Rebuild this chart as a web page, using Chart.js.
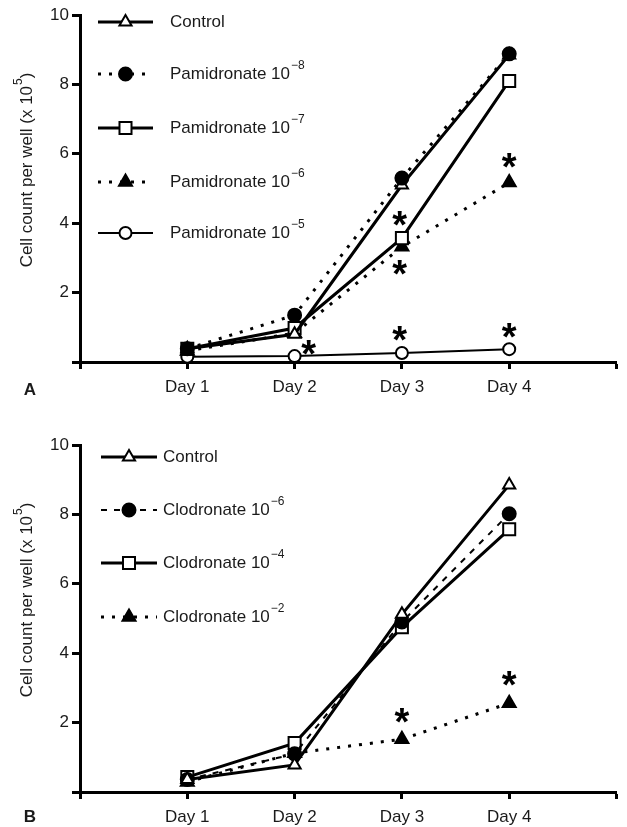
<!DOCTYPE html>
<html lang="en">
<head>
  <meta charset="UTF-8">
  <title>Cell count per well - Pamidronate / Clodronate</title>
  <script src="https://cdn.jsdelivr.net/npm/chart.js"></script>
  <style>
    html, body { margin: 0; padding: 0; background: #fff; }
    #wrap { position: relative; width: 627px; height: 827px; }
    canvas { position: absolute; left: 0; }
    #chartA { top: 0; }
    #chartB { top: 410px; }
  </style>
</head>
<body>
  <div id="wrap">
    <canvas id="chartA" width="627" height="410"></canvas>
    <canvas id="chartB" width="627" height="417"></canvas>
  </div>

  <script>
    // x positions and labels
    const days = [1, 2, 3, 4];
    const dayLabels = ['Day 1', 'Day 2', 'Day 3', 'Day 4'];

    // Panel A values (x 10^5 cells)
    const controlA = [0.38, 0.80, 5.10, 8.85];
    const pam8 = [0.38, 1.35, 5.30, 8.88];
    const pam7 = [0.38, 0.98, 3.57, 8.10];
    const pam6 = [0.32, 0.83, 3.32, 5.17];
    const pam5 = [0.15, 0.17, 0.26, 0.37];

    // Panel B values
    const controlB = [0.36, 0.78, 5.12, 8.85];
    const clod6 = [0.36, 1.10, 4.90, 8.02];
    const clod4 = [0.43, 1.41, 4.75, 7.57];
    const clod2 = [0.29, 1.12, 1.52, 2.56];

    // significance asterisks
    const starsAx = [2.13, 2.98, 2.98, 2.98, 4.0, 4.0];
    const starsAy = [0.43, 4.14, 2.73, 0.83, 5.81, 0.92];
    const starsBx = [3.0, 4.0];
    const starsBy = [2.20, 3.28];

    const FONT = '"Liberation Sans", Arial, Helvetica, sans-serif';
    const INK = '#1a1a1a';
    const TXT = 17;
    const SUP = 12;

    function toXY(vals) {
      return vals.map((v, i) => ({ x: days[i], y: v }));
    }

    // draws legend, asterisks, y title and panel letter
    const decor = {
      id: 'decor',
      afterDraw(chart, args, opts) {
        const ctx = chart.ctx;
        const xs = chart.scales.x;
        const ys = chart.scales.y;
        ctx.save();

        // asterisks
        ctx.fillStyle = '#000';
        ctx.font = 'bold 38px ' + FONT;
        ctx.textAlign = 'center';
        ctx.textBaseline = 'alphabetic';
        const m = ctx.measureText('*');
        const mid = (m.actualBoundingBoxAscent - m.actualBoundingBoxDescent) / 2;
        opts.starsX.forEach((xv, i) => {
          ctx.fillText('*', xs.getPixelForValue(xv), ys.getPixelForValue(opts.starsY[i]) + mid);
        });

        // legend
        const lg = opts.legend;
        opts.series.forEach((s, i) => {
          const y = lg.rows[i];
          ctx.save();
          ctx.strokeStyle = '#000';
          ctx.lineWidth = s.width;
          ctx.setLineDash(s.dash);
          ctx.beginPath();
          ctx.moveTo(lg.x1, y);
          ctx.lineTo(lg.x2, y);
          ctx.stroke();
          ctx.setLineDash([]);
          ctx.fillStyle = s.filled ? '#000' : '#fff';
          ctx.strokeStyle = '#000';
          ctx.lineWidth = 2;
          Chart.helpers.drawPoint(ctx, {
            pointStyle: s.style, radius: s.radius, rotation: 0, borderWidth: 2
          }, (lg.x1 + lg.x2) / 2, y);
          ctx.restore();

          ctx.fillStyle = INK;
          ctx.textAlign = 'left';
          ctx.textBaseline = 'middle';
          ctx.font = TXT + 'px ' + FONT;
          ctx.fillText(s.label, lg.tx, y);
          if (s.exp) {
            const w = ctx.measureText(s.label).width;
            ctx.font = SUP + 'px ' + FONT;
            ctx.fillText(s.exp, lg.tx + w + 1, y - 8);
          }
        });

        // y axis title with superscript
        ctx.fillStyle = INK;
        ctx.translate(opts.titleX, ys.top + 155);
        ctx.rotate(-Math.PI / 2);
        ctx.textAlign = 'left';
        ctx.textBaseline = 'middle';
        ctx.font = TXT + 'px ' + FONT;
        const t1 = 'Cell count per well (x 10';
        const t3 = ')';
        const w1 = ctx.measureText(t1).width;
        const w3 = ctx.measureText(t3).width;
        ctx.font = SUP + 'px ' + FONT;
        const w2 = ctx.measureText('5').width;
        const x0 = -(w1 + w2 + w3 + 1) / 2;
        ctx.font = TXT + 'px ' + FONT;
        ctx.fillText(t1, x0, 0);
        ctx.font = SUP + 'px ' + FONT;
        ctx.fillText('5', x0 + w1 + 1, -8);
        ctx.font = TXT + 'px ' + FONT;
        ctx.fillText(t3, x0 + w1 + w2 + 1, 0);
        ctx.restore();

        // panel letter
        ctx.save();
        ctx.fillStyle = INK;
        ctx.font = 'bold 17px ' + FONT;
        ctx.textAlign = 'center';
        ctx.textBaseline = 'middle';
        ctx.fillText(opts.letter, 30, opts.letterY);
        ctx.restore();
      }
    };

    function makePanel(id, series, cfg) {
      const datasets = series.map(s => ({
        label: s.label,
        data: toXY(s.values),
        borderColor: '#000',
        borderWidth: s.width,
        borderDash: s.dash,
        pointStyle: s.style,
        pointRadius: s.radius,
        pointHoverRadius: s.radius,
        pointBackgroundColor: s.filled ? '#000' : '#fff',
        pointBorderColor: '#000',
        pointBorderWidth: 2,
        fill: false,
        tension: 0,
        order: s.order,
        clip: 8
      }));

      new Chart(document.getElementById(id), {
        type: 'line',
        data: { datasets: datasets },
        options: {
          responsive: false,
          animation: false,
          devicePixelRatio: 1,
          layout: { padding: cfg.padding },
          plugins: {
            legend: { display: false },
            tooltip: { enabled: false },
            decor: {
              series: series,
              legend: cfg.legend,
              starsX: cfg.starsX,
              starsY: cfg.starsY,
              titleX: 27,
              letter: cfg.letter,
              letterY: cfg.letterY
            }
          },
          scales: {
            x: {
              type: 'linear',
              min: 0,
              max: 5,
              ticks: {
                stepSize: 1,
                autoSkip: false,
                maxRotation: 0,
                padding: 8,
                color: INK,
                font: { family: FONT, size: TXT },
                callback: v => {
                  const i = days.indexOf(v);
                  return i >= 0 ? dayLabels[i] : '';
                }
              },
              grid: { drawOnChartArea: false, drawTicks: true, tickLength: 7, tickWidth: 3, tickColor: '#000' },
              border: { display: true, width: 3, color: '#000' },
              afterFit: s => { s.height = cfg.xHeight; }
            },
            y: {
              min: 0,
              max: 10,
              ticks: {
                stepSize: 2,
                padding: 3,
                color: INK,
                font: { family: FONT, size: TXT },
                callback: v => (v === 0 ? '' : v)
              },
              grid: { drawOnChartArea: false, drawTicks: true, tickLength: 8, tickWidth: 3, tickColor: '#000' },
              border: { display: true, width: 3, color: '#000' },
              afterFit: s => { s.width = 80; }
            }
          }
        },
        plugins: [decor]
      });
    }

    const dotted = [3, 8];
    const dashed = [6, 7];

    makePanel('chartA', [
      { label: 'Control', exp: '', values: controlA, width: 3, dash: [], style: 'triangle', radius: 7, filled: false, order: 1 },
      { label: 'Pamidronate 10', exp: '\u22128', values: pam8, width: 3, dash: dotted, style: 'circle', radius: 6.5, filled: true, order: 0 },
      { label: 'Pamidronate 10', exp: '\u22127', values: pam7, width: 3, dash: [], style: 'rect', radius: 8.5, filled: false, order: 2 },
      { label: 'Pamidronate 10', exp: '\u22126', values: pam6, width: 3, dash: dotted, style: 'triangle', radius: 7.5, filled: true, order: 3 },
      { label: 'Pamidronate 10', exp: '\u22125', values: pam5, width: 2, dash: [], style: 'circle', radius: 6, filled: false, order: 4 }
    ], {
      padding: { top: 15, right: 8, left: 0, bottom: 0 },
      xHeight: 48,
      legend: { x1: 98, x2: 153, tx: 170, rows: [22, 74, 128, 182, 233] },
      starsX: starsAx,
      starsY: starsAy,
      letter: 'A',
      letterY: 390
    });

    makePanel('chartB', [
      { label: 'Control', exp: '', values: controlB, width: 3, dash: [], style: 'triangle', radius: 7, filled: false, order: 0 },
      { label: 'Clodronate 10', exp: '\u22126', values: clod6, width: 2, dash: dashed, style: 'circle', radius: 6.5, filled: true, order: 1 },
      { label: 'Clodronate 10', exp: '\u22124', values: clod4, width: 3, dash: [], style: 'rect', radius: 8.5, filled: false, order: 2 },
      { label: 'Clodronate 10', exp: '\u22122', values: clod2, width: 3, dash: dotted, style: 'triangle', radius: 7.5, filled: true, order: 3 }
    ], {
      padding: { top: 35, right: 9, left: 0, bottom: 0 },
      xHeight: 35,
      legend: { x1: 101, x2: 157, tx: 163, rows: [47, 100, 153, 207] },
      starsX: starsBx,
      starsY: starsBy,
      letter: 'B',
      letterY: 407
    });
  </script>
</body>
</html>
